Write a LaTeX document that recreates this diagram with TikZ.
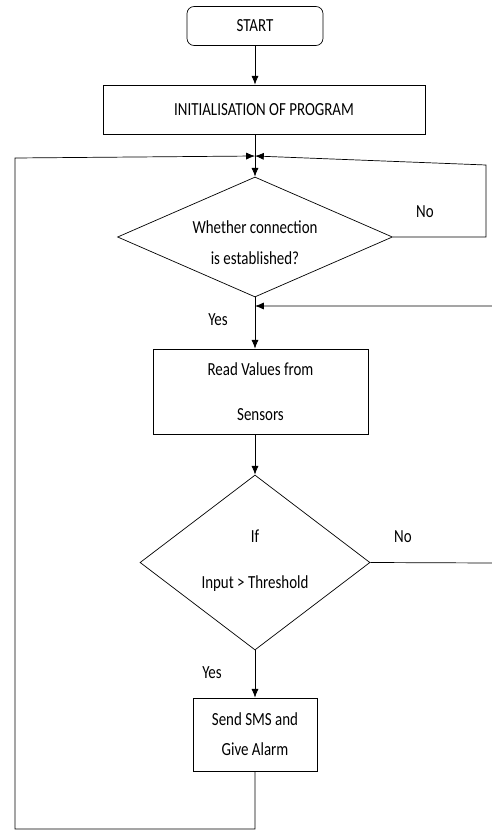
\documentclass[tikz,border=0pt]{standalone}
\usepackage{fontspec}
\setmainfont{Carlito}[FakeStretch=0.81]
\usetikzlibrary{shapes.geometric,arrows.meta}

\tikzset{box/.style={draw, rectangle, align=center, inner sep=0pt},
  dia/.style={draw, diamond, inner sep=0pt},
  diatext/.style={align=center, inner sep=0pt},
  lbl/.style={inner sep=0pt}}

\begin{document}
\begin{tikzpicture}[x=0.02cm,y=-0.02cm,>={Latex[length=5pt,width=4pt]},font=\fontsize{10.5}{12}\selectfont]
\useasboundingbox (0,0) rectangle (491,831);

%Boxes
\node[box,rounded corners=4pt,minimum width=2.72cm,minimum height=0.78cm] (start) at (255,26) {START};
\node[box,minimum width=6.44cm,minimum height=0.98cm] (init) at (264,109.5) {INITIALISATION OF PROGRAM};
\node[dia,minimum width=5.5cm,minimum height=2.4cm,
  label={[diatext,yshift=-3pt]center:Whether connection\\[5.6pt]is established?}] (conn) at (255,237) {};
\node[box,minimum width=4.3cm,minimum height=1.7cm] (read) at (260.5,391.5) {Read Values from\\[14pt]Sensors};
\node[dia,minimum width=4.6cm,minimum height=3.5cm,
  label={[diatext,yshift=1pt]center:If\\[14pt]Input > Threshold}] (thr) at (255,562.5) {};
\node[box,minimum width=2.48cm,minimum height=1.46cm] (sms) at (255,734.5) {Send SMS and\\[5pt]Give Alarm};

%Labels
\node[lbl] (no1) at (425,212) {No};
\node[lbl] (no2) at (403,537) {No};
\node[lbl] (yes1) at (218,320) {Yes};
\node[lbl] (yes2) at (212,673) {Yes};

%Junctions
\coordinate (j) at (255,156);
\coordinate (m) at (255,306);

%Connectors
\draw[->] (start) -- (start |- init.north);
\draw (init.south -| j) -- (j); \draw[->] (j) -- (conn.north);
\draw[->] (conn.east) -- (486,237) -- (486,165) -- (j);
\draw (conn.south) -- (m); \draw[->] (m) -- (m |- read.north);
\draw[->] (read.south -| m) -- (thr.north);
\draw[->] (thr.east) -- (494,563) -- (494,306) -- (m);
\draw[->] (thr.south) -- (sms.north);
\draw[->] (sms.south) -- (255,829) -- (15,829) -- (15,158) -- (j);

\end{tikzpicture}
\end{document}
